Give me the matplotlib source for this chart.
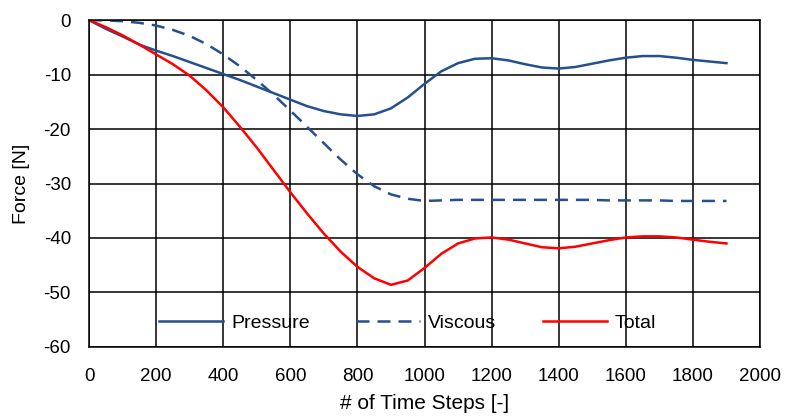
import numpy as np, matplotlib
matplotlib.use('Agg')
import matplotlib.pyplot as plt

plt.rcParams['font.family'] = ['Liberation Sans', 'DejaVu Sans']
plt.rcParams['axes.unicode_minus'] = False

# time steps, every 50
steps = list(range(0, 1901, 50))

pressure = [0, -1.6, -3.0, -4.5, -5.6, -6.6, -7.7, -8.8, -9.9, -11.0,
            -12.2, -13.4, -14.6, -15.8, -16.7, -17.3, -17.6, -17.3, -16.2, -14.2,
            -11.7, -9.4, -7.9, -7.1, -7.0, -7.4, -8.1, -8.7, -8.9, -8.6,
            -8.0, -7.4, -6.9, -6.6, -6.6, -6.9, -7.3, -7.6, -7.9]

viscous = [0, -0.05, -0.2, -0.5, -1.0, -1.8, -2.9, -4.4, -6.3, -8.5,
           -11.0, -13.7, -16.6, -19.6, -22.6, -25.6, -28.3, -30.5, -32.0, -32.8,
           -33.2, -33.1, -33.0, -33.0, -33.0, -33.0, -33.0, -33.0, -33.0, -33.0,
           -33.0, -33.1, -33.1, -33.1, -33.1, -33.2, -33.2, -33.2, -33.2]

total = [0, -1.3, -2.8, -4.5, -6.3, -8.1, -10.2, -12.9, -16.0, -19.6,
         -23.4, -27.5, -31.6, -35.5, -39.2, -42.5, -45.3, -47.4, -48.6, -47.8,
         -45.5, -42.9, -41.0, -40.1, -39.9, -40.3, -41.0, -41.7, -41.9, -41.6,
         -41.0, -40.4, -39.9, -39.7, -39.7, -39.9, -40.3, -40.7, -41.0]

blue = '#24508f'
fs = 14

fig = plt.figure(figsize=(7.88, 4.19), dpi=100)
ax = fig.add_axes([0.113, 0.172, 0.8515, 0.78])

ax.plot(steps, pressure, color=blue, lw=1.8, label='Pressure')
ax.plot(steps, viscous, color=blue, lw=1.8, ls=(0, (5.2, 3.2)), label='Viscous')
ax.plot(steps, total, color='#ff0000', lw=1.8, label='Total')

ax.set_xlim(0, 2000)
ax.set_ylim(-60, 0)
ax.set_xticks(np.arange(0, 2001, 200))
ax.set_yticks(np.arange(-60, 1, 10))
ax.grid(True, color='black', lw=1.1)
ax.set_axisbelow(True)
for s in ax.spines.values():
    s.set_color('black')
    s.set_linewidth(1.1)
ax.tick_params(length=0, labelsize=13.5)
ax.tick_params(axis='x', pad=15)
ax.tick_params(axis='y', pad=13)
ax.set_xlabel('# of Time Steps [-]', fontsize=15, labelpad=7)
ax.set_ylabel('Force [N]', fontsize=fs, labelpad=10)

ax.legend(loc='center', bbox_to_anchor=(0.475, 0.073), ncol=3, frameon=False,
          fontsize=fs, handlelength=3.3, handletextpad=0.4, columnspacing=2.4)

fig.savefig('out.png', dpi=100)
